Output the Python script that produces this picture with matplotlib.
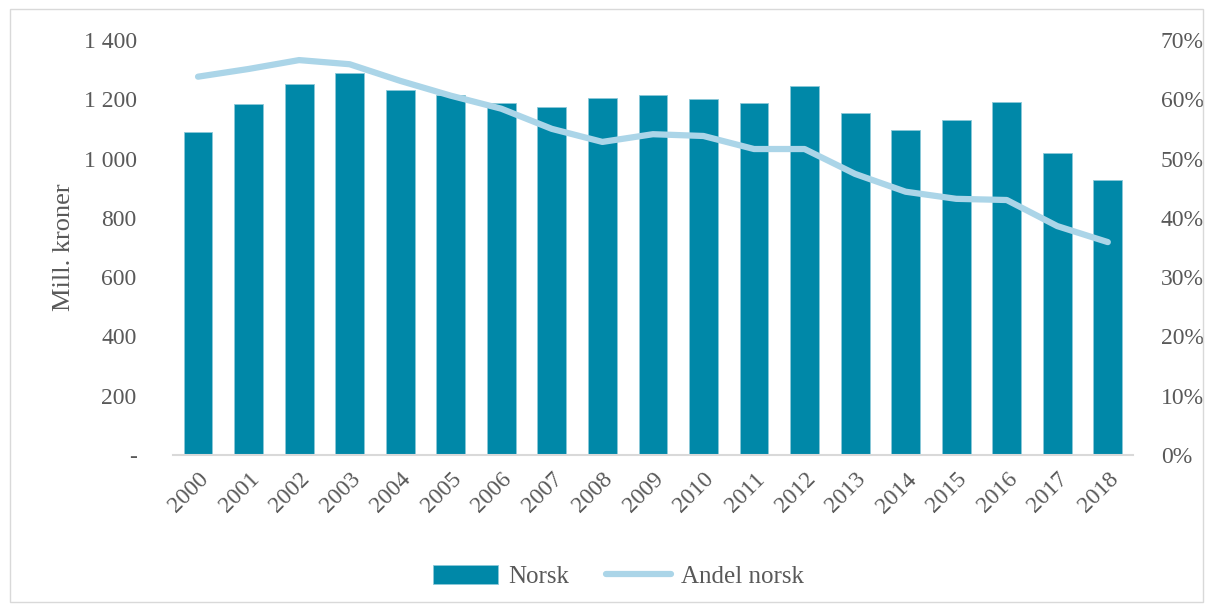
import matplotlib.pyplot as plt
import matplotlib as mpl
from matplotlib.patches import Rectangle

years = [str(y) for y in range(2000, 2019)]
norsk = [1090, 1184, 1252, 1289, 1231, 1214, 1187, 1174, 1204, 1214,
         1201, 1187, 1245, 1154, 1096, 1130, 1191, 1019, 928]
andel = [63.8, 65.1, 66.6, 65.9, 63.1, 60.6, 58.4, 55.0, 52.8, 54.1,
         53.8, 51.6, 51.6, 47.4, 44.4, 43.2, 43.0, 38.6, 35.9]

left_ticks = [0, 200, 400, 600, 800, 1000, 1200, 1400]
left_labels = ['-', '200', '400', '600', '800', '1 000', '1 200', '1 400']
right_ticks = [0, 10, 20, 30, 40, 50, 60, 70]

bar_col = '#0088A8'
line_col = '#ABD5E8'
txt_col = '#595959'

mpl.rcParams['font.family'] = ['Liberation Serif', 'DejaVu Serif']
mpl.rcParams['font.size'] = 17

fig = plt.figure(figsize=(12.08, 6.05), dpi=100)
fig.patches.append(Rectangle((0.008, 0.005), 0.988, 0.98, transform=fig.transFigure,
                             fill=False, edgecolor='#D9D9D9', linewidth=1))
ax = fig.add_axes([0.143, 0.248, 0.795, 0.686])
x = list(range(len(years)))
ax.bar(x, norsk, width=0.57, color=bar_col, edgecolor='#8CC8D8', linewidth=0.6, label='Norsk', zorder=2)
ax.set_xlim(-0.5, len(years) - 0.5)
ax.set_ylim(0, 1400)
ax.set_yticks(left_ticks)
ax.set_yticklabels(left_labels)
ax.set_xticks(x)
ax.set_xticklabels(years, rotation=45, ha='right', rotation_mode='anchor')
ax.set_ylabel('Mill. kroner', color=txt_col, fontsize=19, labelpad=6)
for s in ['top', 'right', 'left']:
    ax.spines[s].set_visible(False)
ax.spines['bottom'].set_color('#D9D9D9')
ax.spines['bottom'].set_linewidth(1.5)
ax.tick_params(axis='both', length=0, colors=txt_col, labelsize=17)
ax.tick_params(axis='y', pad=26)
ax.tick_params(axis='x', pad=10)

ax2 = ax.twinx()
ax2.plot(x, andel, color=line_col, linewidth=4.5, solid_capstyle='round', label='Andel norsk', zorder=3)
ax2.set_ylim(0, 70)
ax2.set_yticks(right_ticks)
ax2.set_yticklabels([f'{t}%' for t in right_ticks])
for s in ['top', 'right', 'left', 'bottom']:
    ax2.spines[s].set_visible(False)
ax2.tick_params(axis='y', length=0, colors=txt_col, labelsize=17, pad=20)

h1, l1 = ax.get_legend_handles_labels()
h2, l2 = ax2.get_legend_handles_labels()
fig.legend(h1 + h2, l1 + l2, loc='center', bbox_to_anchor=(0.512, 0.047), ncol=2,
           frameon=False, fontsize=18, labelcolor=txt_col, handlelength=2.6,
           handleheight=0.8, columnspacing=1.5, handletextpad=0.4)

fig.savefig('out.png', dpi=100)
